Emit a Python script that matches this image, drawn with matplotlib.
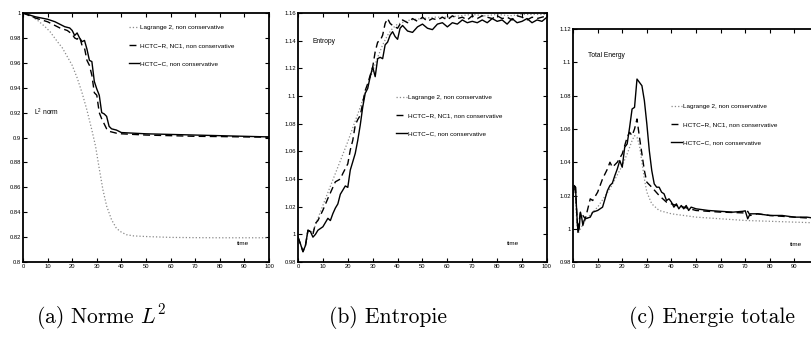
import numpy as np
import matplotlib.pyplot as plt
from matplotlib.ticker import FuncFormatter

plt.rcParams['font.family'] = ['Liberation Sans', 'DejaVu Sans']
plt.rcParams['mathtext.fontset'] = 'custom'
plt.rcParams['mathtext.rm'] = 'Liberation Sans'
plt.rcParams['mathtext.it'] = 'Liberation Sans:italic'

labels = ['Lagrange 2, non conservative',
          'HCTC\u2212R, NC1, non conservative',
          'HCTC\u2212C, non conservative']

# ---- (a) L2 norm
l2_lag_t = [0, 3, 6, 9, 11, 14, 16, 18, 20, 22, 24, 26, 28, 29.5, 31, 32.5, 34, 36, 38, 40, 42, 45, 50, 60, 70, 80, 90, 100]
l2_lag_v = [1.0, 0.998, 0.994, 0.989, 0.985, 0.977, 0.972, 0.965, 0.958, 0.948, 0.936, 0.922, 0.906, 0.893, 0.875, 0.858, 0.845, 0.834, 0.827, 0.824, 0.822, 0.821, 0.8205, 0.8198, 0.8196, 0.8195, 0.8195, 0.8195]

l2_c_t = [0, 5, 10, 13, 15, 17, 19, 20, 21, 22, 23, 24, 25, 26, 27, 28, 29, 30, 31, 32, 33, 34, 35, 36, 38, 40, 45, 50, 60, 70, 80, 90, 100]
l2_c_v = [1.0, 0.997, 0.995, 0.993, 0.991, 0.989, 0.988, 0.986, 0.982, 0.984, 0.980, 0.977, 0.978, 0.971, 0.962, 0.961, 0.945, 0.939, 0.934, 0.920, 0.919, 0.917, 0.909, 0.907, 0.906, 0.904, 0.9035, 0.903, 0.9025, 0.902, 0.9015, 0.901, 0.9005]

l2_r_t = [0, 5, 10, 15, 18, 20, 21, 22, 23, 24, 25, 26, 27, 28, 29, 30, 31, 32, 33, 34, 35, 38, 40, 50, 60, 70, 80, 90, 100]
l2_r_v = [1.0, 0.996, 0.993, 0.988, 0.986, 0.983, 0.980, 0.979, 0.981, 0.974, 0.972, 0.962, 0.958, 0.950, 0.936, 0.934, 0.920, 0.915, 0.911, 0.907, 0.905, 0.9035, 0.903, 0.902, 0.9015, 0.901, 0.9008, 0.9005, 0.9003]

# ---- (b) entropy
ent_lag_t = [0, 1, 2, 3, 4, 5, 6, 10, 15, 20, 25, 28, 30, 32, 34, 36, 38, 40, 45, 50, 55, 60, 65, 70, 75, 80, 85, 90, 95, 100]
ent_lag_v = [0.998, 0.993, 0.988, 0.992, 1.003, 1.002, 1.002, 1.021, 1.044, 1.067, 1.092, 1.108, 1.118, 1.128, 1.137, 1.144, 1.149, 1.152, 1.155, 1.156, 1.157, 1.157, 1.158, 1.159, 1.158, 1.159, 1.158, 1.159, 1.159, 1.159]

ent_c_t = [0, 1, 2, 3, 4, 5, 6, 7, 8, 10, 12, 13, 14, 15, 16, 17, 18, 19, 20, 21, 22, 23, 24, 25, 26, 27, 28, 29, 30, 31, 32, 33, 34, 35, 36, 37, 38, 39, 40, 41, 42,
           44, 46, 48, 50, 52, 54, 56, 58, 60, 62, 64, 66, 68, 70, 72, 74, 76, 78, 80, 82, 84, 86, 88, 90, 92, 94, 96, 98, 100]
ent_c_v = [0.998, 0.993, 0.9875, 0.992, 1.003, 1.002, 0.998, 1.0, 1.003, 1.0055, 1.0116, 1.010, 1.015, 1.019, 1.022, 1.029, 1.032, 1.035, 1.034, 1.0465, 1.0525, 1.0586, 1.068, 1.079, 1.092, 1.102, 1.1055, 1.114, 1.121, 1.114, 1.127, 1.128, 1.127, 1.137, 1.139, 1.144, 1.1465, 1.143, 1.141, 1.149, 1.151,
           1.147, 1.146, 1.150, 1.152, 1.149, 1.148, 1.152, 1.153, 1.150, 1.153, 1.152, 1.155, 1.153, 1.154, 1.153, 1.155, 1.153, 1.156, 1.154, 1.155, 1.152, 1.156, 1.153, 1.154, 1.156, 1.153, 1.155, 1.154, 1.157]

ent_r_t = [0, 1, 2, 3, 4, 5, 6, 7, 8, 10, 12, 14, 15, 17, 18, 20, 21, 22, 23, 24, 25, 26, 27, 28, 29, 30, 31, 32, 33, 34, 35, 36, 37, 38, 40,
           42, 44, 46, 48, 50, 52, 54, 56, 58, 60, 62, 64, 66, 68, 70, 72, 74, 76, 78, 80, 82, 84, 86, 88, 90, 92, 94, 96, 98, 100]
ent_r_v = [0.998, 0.993, 0.9875, 0.992, 1.003, 1.002, 1.0, 1.008, 1.01, 1.0175, 1.026, 1.034, 1.038, 1.04, 1.044, 1.051, 1.061, 1.068, 1.079, 1.083, 1.086, 1.095, 1.104, 1.109, 1.115, 1.121, 1.132, 1.139, 1.140, 1.144, 1.1525, 1.156, 1.1525, 1.151, 1.149,
           1.155, 1.153, 1.156, 1.154, 1.157, 1.154, 1.156, 1.155, 1.157, 1.155, 1.158, 1.156, 1.157, 1.155, 1.158, 1.156, 1.158, 1.157, 1.156, 1.158, 1.156, 1.157, 1.155, 1.158, 1.157, 1.155, 1.157, 1.156, 1.157, 1.158]

# ---- (c) total energy
en_lag_t = [0, 0.5, 1, 1.5, 2, 3, 5, 8, 10, 15, 20, 22, 24, 25, 26, 27, 28, 29, 30, 32, 35, 40, 50, 60, 70, 80, 90, 100]
en_lag_v = [1.02, 1.025, 1.02, 1.005, 0.997, 1.0, 1.005, 1.01, 1.013, 1.024, 1.038, 1.045, 1.053, 1.056, 1.055, 1.05, 1.04, 1.03, 1.022, 1.015, 1.011, 1.009, 1.007, 1.006, 1.005, 1.0045, 1.004, 1.0035]

en_c_t = [0, 0.5, 1, 1.5, 2, 2.5, 3, 3.5, 4, 4.5, 5, 7, 8, 10, 12, 13, 14, 15, 16, 17, 18, 19, 20, 21, 22, 23, 24, 25, 26, 27, 28, 29, 30, 31, 32, 33, 34, 35, 36, 37, 38, 39, 40,
          41, 42, 43, 44, 45, 46, 47, 48, 50, 55, 60, 65, 69, 70, 71, 72, 75, 80, 85, 90, 95, 100]
en_c_v = [1.02, 1.026, 1.025, 1.01, 0.998, 1.0, 1.01, 1.007, 1.002, 1.005, 1.006, 1.007, 1.01, 1.011, 1.013, 1.018, 1.023, 1.026, 1.0275, 1.032, 1.036, 1.041, 1.037, 1.049, 1.051, 1.061, 1.072, 1.073, 1.09, 1.088, 1.086, 1.077, 1.063, 1.047, 1.035, 1.027, 1.025, 1.025, 1.022, 1.021, 1.017, 1.018, 1.016,
          1.013, 1.015, 1.012, 1.014, 1.012, 1.014, 1.011, 1.013, 1.012, 1.011, 1.0105, 1.010, 1.0105, 1.0108, 1.006, 1.009, 1.009, 1.008, 1.008, 1.007, 1.007, 1.006]

en_r_t = [0, 0.5, 1, 1.5, 2, 3, 5, 7, 8, 10, 12, 14, 15, 16, 18, 20, 22, 23, 24, 25, 26, 27, 28, 29, 30, 32, 35, 38, 40, 42, 45, 50, 55, 60, 65, 70, 71, 72, 75, 80, 85, 90, 95, 100]
en_r_v = [1.02, 1.026, 1.025, 1.01, 0.999, 1.01, 1.006, 1.018, 1.017, 1.022, 1.03, 1.036, 1.04, 1.037, 1.04, 1.045, 1.055, 1.058, 1.056, 1.06, 1.066, 1.055, 1.045, 1.035, 1.028, 1.025, 1.02, 1.016, 1.015, 1.014, 1.013, 1.011, 1.0105, 1.010, 1.0098, 1.0095, 1.0105, 1.008, 1.009, 1.008, 1.0075, 1.007, 1.0065, 1.006]

fig = plt.figure(figsize=(8.12, 3.43), dpi=100)
fig.patch.set_facecolor('white')

panels = [
    dict(pos=[0.0283, 0.236, 0.303, 0.726], ylim=(0.8, 1.0), yt=np.arange(0.8, 1.0001, 0.02),
         lag=(l2_lag_t, l2_lag_v), r=(l2_r_t, l2_r_v), c=(l2_c_t, l2_c_v),
         leg=(0.43, 0.953), name='L$^{\\rm 2}$ norm', name_xy=(0.045, 0.59), time_xy=(0.87, 0.07)),
    dict(pos=[0.367, 0.236, 0.3066, 0.726], ylim=(0.98, 1.16), yt=np.arange(0.98, 1.1601, 0.02),
         lag=(ent_lag_t, ent_lag_v), r=(ent_r_t, ent_r_v), c=(ent_c_t, ent_c_v),
         leg=(0.395, 0.672), name='Entropy', name_xy=(0.06, 0.88), time_xy=(0.84, 0.07)),
    dict(pos=[0.7057, 0.236, 0.303, 0.679], ylim=(0.98, 1.12), yt=np.arange(0.98, 1.1201, 0.02),
         lag=(en_lag_t, en_lag_v), r=(en_r_t, en_r_v), c=(en_c_t, en_c_v),
         leg=(0.40, 0.68), name='Total Energy', name_xy=(0.06, 0.88), time_xy=(0.88, 0.07)),
]

fmt = FuncFormatter(lambda v, p: '%g' % round(v, 4))

for i, p in enumerate(panels):
    ax = fig.add_axes(p['pos'])
    ax.plot(p['lag'][0], p['lag'][1], ':', color='#8a8a8a', lw=0.9, label=labels[0])
    ax.plot(p['r'][0], p['r'][1], '--', color='black', lw=1.0, dashes=(5, 3), label=labels[1])
    ax.plot(p['c'][0], p['c'][1], '-', color='black', lw=1.0, label=labels[2])
    ax.set_xlim(0, 100)
    ax.set_ylim(*p['ylim'])
    ax.set_xticks(np.arange(0, 101, 10))
    if i == 2:
        # last label falls off the page edge
        ax.set_xticklabels([str(v) for v in range(0, 91, 10)] + [''])
    ax.set_yticks(p['yt'])
    ax.yaxis.set_major_formatter(fmt)
    ax.tick_params(direction='in', length=3, width=0.8, labelsize=4.2, pad=1.5,
                   top=True, right=True)
    for s in ax.spines.values():
        s.set_linewidth(1.3)
    ax.legend(loc='upper left', bbox_to_anchor=p['leg'], frameon=False, fontsize=4.6,
              handlelength=1.6, handletextpad=0.2, labelspacing=2.0, borderpad=0, borderaxespad=0)
    ax.text(p['name_xy'][0], p['name_xy'][1], p['name'], transform=ax.transAxes, fontsize=4.8)
    ax.text(p['time_xy'][0], p['time_xy'][1], 'time', transform=ax.transAxes, fontsize=4.6)

captions = [(0.125, '(a) Norme $L^2$'), (0.478, '(b) Entropie'), (0.877, '(c) Energie totale')]
for x, s in captions:
    fig.text(x, 0.075, s, ha='center', va='center', fontsize=15.5, family='cmr10', math_fontfamily='cm')

fig.savefig('out.png', dpi=100)
